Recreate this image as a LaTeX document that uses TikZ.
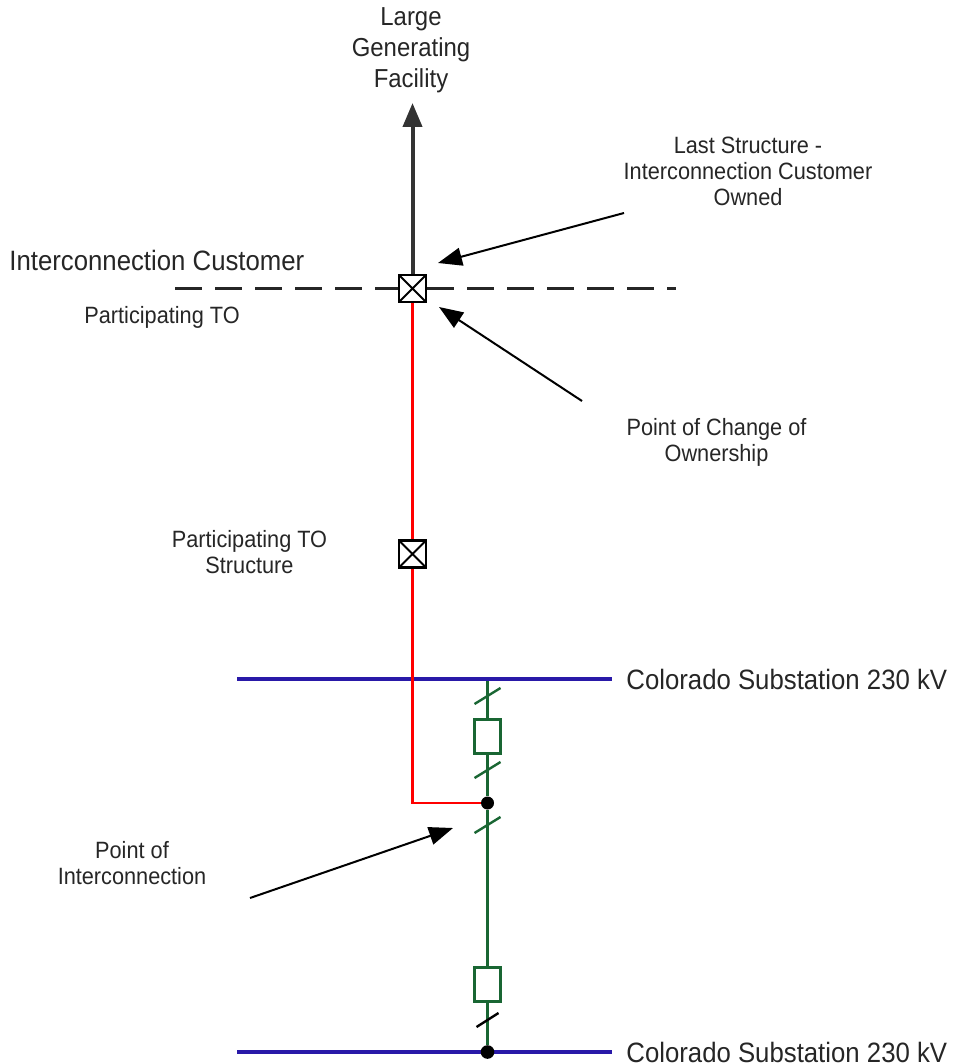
\documentclass[tikz,border=0pt]{standalone}
\usepackage{fontspec}
\setmainfont{Liberation Sans}[FakeStretch=0.92]
\usetikzlibrary{arrows.meta}
\definecolor{busblue}{rgb}{0.16,0.1,0.66}
\definecolor{feedgreen}{rgb}{0.1,0.4,0.2}
\definecolor{inkgray}{gray}{0.15}
\begin{document}
\begin{tikzpicture}[x=5pt,y=5pt]
\tikzstyle{every node}+=[inner sep=0pt, text=inkgray]
\tikzstyle{biglbl}=[font=\fontsize{14}{16}\selectfont]
\tikzstyle{lbl}=[font=\fontsize{11.8}{13}\selectfont, align=center]
\tikzstyle{struct}=[draw=black, fill=white, line width=1.3pt, minimum size=13.5pt, path picture={\draw[line width=0.9pt] (path picture bounding box.north west) -- (path picture bounding box.south east) (path picture bounding box.south west) -- (path picture bounding box.north east);}]
\tikzstyle{breaker}=[draw=feedgreen, fill=white, line width=1.3pt, minimum width=13pt, minimum height=17pt]
\tikzstyle{dot}=[circle, fill=black, minimum size=6.5pt]
\tikzstyle{pointer}=[black, line width=1pt, -{Triangle[length=12pt,width=9pt]}]
\tikzstyle{bus}=[busblue, line width=2pt]
\tikzstyle{tie}=[red, line width=1.2pt]
\tikzstyle{feeder}=[feedgreen, line width=1.2pt]
\tikzstyle{boundary}=[black!85, line width=1.5pt, dash pattern=on 13.5pt off 6.5pt]
\useasboundingbox (0,0) rectangle (95.5,-106.3);
% change of ownership line
\coordinate (dl) at (17.5,-28.85);
\coordinate (dr) at (67.6,-28.85);
\node[struct] (s1) at (41.25,-28.85) {};
\draw[boundary] (dl) -- (s1);
\draw[boundary] (s1) -- (dr);
\node[font=\fontsize{13}{15.5}\selectfont, align=center] (gen) at (41.1,-5.0) {Large\\Generating\\Facility};
\coordinate (genin) at (41.25,-10.3);
\draw[black!80, line width=2pt, -{Triangle[length=12pt,width=9.5pt]}] (s1) -- (genin);
\node[biglbl, anchor=west] (cust) at (0.9,-26.05) {Interconnection Customer};
\node[lbl, anchor=base west] (pto) at (8.4,-32.4) {Participating TO};
\node[lbl] (last) at (74.8,-17.1) {Last Structure -\\Interconnection Customer\\Owned};
\coordinate (lastfrom) at (62.4,-21.3);
\coordinate (lastto) at (43.8,-26.3);
\draw[pointer] (lastfrom) -- (lastto);
\node[lbl] (change) at (71.65,-44.2) {Point of Change of\\Ownership};
\coordinate (chgfrom) at (58.2,-40.1);
\coordinate (chgto) at (43.9,-30.7);
\draw[pointer] (chgfrom) -- (chgto);
\node[struct] (s2) at (41.25,-55.4) {};
\node[lbl] (ptos) at (24.95,-55.25) {Participating TO\\Structure};
% substation buses
\node[biglbl, anchor=west] (bus1) at (62.6,-67.9) {Colorado Substation 230 kV};
\coordinate (b1) at (23.7,-67.9);
\draw[bus] (b1) -- ([xshift=-7pt]bus1.west);
\node[biglbl, anchor=west] (bus2) at (62.6,-105.2) {Colorado Substation 230 kV};
\coordinate (b2) at (23.7,-105.2);
\draw[bus] (b2) -- ([xshift=-7pt]bus2.west);
% breaker bay
\coordinate (g0) at (48.75,-68.1);
\node[breaker] (cb1) at (48.75,-73.65) {};
\node[dot] (j1) at (48.75,-80.3) {};
\node[breaker] (cb2) at (48.75,-98.45) {};
\node[dot, minimum size=6.8pt] (j2) at (48.75,-105.2) {};
\draw[feeder] (g0) -- (cb1) -- (j1) -- (cb2) -- (j2);
\foreach \y in {-69.6,-77.0,-82.5}
  \draw[feeder] (48.75,\y) ++(-1.3,-0.8) -- ++(2.6,1.6);
\draw[black, line width=1.2pt] (48.75,-102.0) ++(-1.1,-0.7) -- ++(2.2,1.4);
\draw[tie] (s1) -- (s2);
\draw[tie] (s2) |- (j1);
\node[lbl] (poi) at (13.2,-86.3) {Point of\\Interconnection};
\coordinate (poifrom) at (25.0,-89.8);
\coordinate (poito) at (45.3,-82.8);
\draw[pointer] (poifrom) -- (poito);
\end{tikzpicture}
\end{document}
